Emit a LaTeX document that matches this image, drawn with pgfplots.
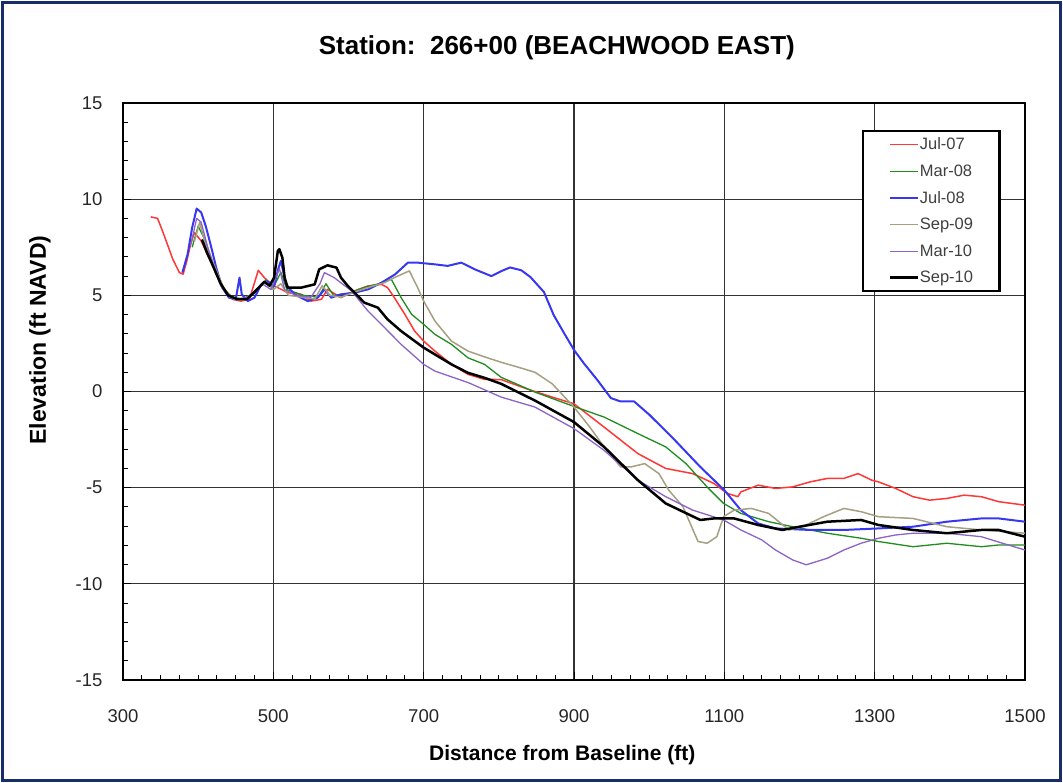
\documentclass[border=0pt]{standalone}
\usepackage{fontspec}
\setmainfont{Liberation Sans}
\usepackage{pgfplots}
\pgfplotsset{compat=1.18}

\definecolor{cJulA}{RGB}{255,55,55}
\definecolor{cMarA}{RGB}{30,140,30}
\definecolor{cJulB}{RGB}{55,55,240}
\definecolor{cSepA}{RGB}{165,160,130}
\definecolor{cMarB}{RGB}{140,100,200}
\definecolor{frame}{RGB}{25,45,105}

\begin{document}
\begin{tikzpicture}
\path[use as bounding box] (0,0) rectangle (1063pt,783pt);
\draw[frame, line width=3pt] (2.5pt,2.5pt) rectangle (1060.5pt,780.5pt);
\begin{axis}[
    at={(123pt,103pt)}, anchor=south west,
    scale only axis,
    width=902pt, height=577pt,
    xmin=300, xmax=1500, ymin=-15, ymax=15,
    xtick={300,500,...,1500}, ytick={-15,-10,...,15},
    minor x tick num=7, minor y tick num=4,
    tick pos=left, tick align=inside,
    major tick length=8pt, minor tick length=5pt,
    every tick/.style={black, line width=1pt},
    axis line style={black, line width=1.5pt},
    grid=major,
    major grid style={black!80, line width=1.2pt},
    /pgf/number format/assume math mode=true,
    /pgf/number format/1000 sep={},
    ticklabel style={font=\fontsize{18.5}{20}\selectfont, text=black!85},
    xticklabel style={yshift=-26pt},
    yticklabel style={xshift=-17pt},
    title={Station:\ \ 266+00 (BEACHWOOD EAST)},
    title style={font=\fontsize{26}{28}\bfseries\selectfont, at={(rel axis cs:0.481,1.085)}, anchor=center},
    xlabel={Distance from Baseline (ft)},
    xlabel style={font=\fontsize{21}{23}\bfseries\selectfont, at={(rel axis cs:0.487,-0.13)}, anchor=center},
    ylabel={Elevation (ft NAVD)},
    ylabel style={font=\fontsize{23}{25}\bfseries\selectfont, at={(rel axis cs:-0.092,0.589)}, anchor=center, rotate=0},
    legend style={at={(rel axis cs:0.819,0.953)}, anchor=north west,
        draw=black, line width=2.2pt, fill=white,
        font=\fontsize{16.5}{18}\selectfont, text=black!75,
        inner xsep=26pt, inner ysep=6pt, row sep=12.5pt,
        nodes={inner sep=0.5pt}},
    legend cell align=left,
    legend image code/.code={\draw[#1] (0pt,0pt) -- (28pt,0pt);},
    every axis plot/.append style={line join=round},
]
% Jul-07
\addplot[cJulA, line width=1.5pt] coordinates {
(337,9.08) (346,9.0) (352,8.4) (359,7.66) (366,6.9) (375,6.18) (380,6.1) (385,6.8)
(390,7.66) (395,8.26) (404,7.83) (412,7.14) (418,6.7) (424,6.09) (435,5.23) (446,4.79)
(457,4.7) (468,4.79) (475,5.66) (480,6.3) (488,5.92) (497,5.57) (506,5.4) (519,5.14)
(537,5.05) (550,4.7) (564,4.79) (572,5.31) (590,4.88) (608,5.23) (626,5.49) (644,5.57)
(652,5.4) (661,4.88) (675,4.01) (688,3.14) (700,2.62) (715,2.1) (737,1.41) (759,0.89)
(781,0.63) (803,0.62) (840,0.1) (871,-0.29) (900,-0.64) (940,-1.85) (985,-3.23) (1022,-4.0)
(1058,-4.27) (1086,-4.78) (1104,-5.30) (1118,-5.47) (1122,-5.22) (1145,-4.87) (1168,-5.04)
(1191,-4.96) (1214,-4.70) (1237,-4.52) (1259,-4.52) (1278,-4.27) (1296,-4.61) (1305,-4.70)
(1328,-5.04) (1351,-5.47) (1373,-5.65) (1396,-5.56) (1419,-5.39) (1442,-5.47) (1465,-5.73)
(1500,-5.91)};
\addlegendentry{Jul-07}
% Mar-08
\addplot[cMarA, line width=1.3pt] coordinates {
(392,7.5) (400,8.6) (410,7.8) (420,6.5) (432,5.4) (445,4.9) (460,4.8) (475,5.1) (490,5.8)
(500,5.4) (510,6.2) (518,5.3) (540,5.0) (560,4.9) (570,5.6) (580,5.0) (600,5.1) (620,5.4)
(640,5.6) (657,5.83) (670,4.88) (684,4.01) (700,3.49) (715,2.97) (737,2.45) (759,1.75)
(781,1.41) (803,0.74) (848,-0.03) (900,-0.78) (940,-1.33) (985,-2.19) (1022,-2.88)
(1049,-3.75) (1077,-4.96) (1099,-5.82) (1122,-6.34) (1159,-6.77) (1191,-7.03) (1237,-7.37)
(1282,-7.63) (1305,-7.8) (1351,-8.07) (1396,-7.89) (1442,-8.07) (1465,-7.98) (1500,-7.98)};
\addlegendentry{Mar-08}
% Jul-08
\addplot[cJulB, line width=2pt] coordinates {
(379,6.18) (386,7.14) (392,8.52) (398,9.51) (404,9.31) (410,8.61) (417,7.57) (424,6.44)
(432,5.4) (441,4.88) (450,4.79) (455,5.92) (458,5.05) (466,4.7) (475,4.88) (484,5.57)
(492,5.74) (501,5.49) (507,6.44) (510,6.79) (517,5.57) (528,5.05) (546,4.7) (559,4.88)
(568,5.31) (577,4.88) (590,5.05) (608,5.14) (626,5.31) (644,5.66) (662,6.09) (679,6.7)
(692,6.7) (715,6.61) (732,6.53) (750,6.7) (768,6.35) (790,6.0) (804,6.27) (815,6.45)
(830,6.3) (842,5.95) (860,5.17) (873,3.97) (887,3.02) (900,2.16) (913,1.47) (931,0.6)
(949,-0.34) (962,-0.52) (980,-0.52) (1000,-1.2) (1031,-2.4) (1068,-3.92) (1100,-5.13)
(1122,-6.17) (1145,-6.86) (1168,-7.12) (1214,-7.2) (1259,-7.2) (1305,-7.12) (1351,-7.03)
(1396,-6.77) (1442,-6.6) (1465,-6.6) (1500,-6.77)};
\addlegendentry{Jul-08}
% Sep-09
\addplot[cSepA, line width=1.5pt] coordinates {
(395,7.8) (402,8.8) (410,7.6) (417,7.0) (424,6.3) (435,5.3) (448,4.8) (460,4.75) (475,5.2)
(490,5.7) (500,5.3) (510,5.6) (520,5.0) (540,4.9) (555,4.8) (565,5.5) (575,5.0) (590,4.9)
(610,5.2) (630,5.45) (648,5.66) (661,5.92) (681,6.27) (692,5.4) (700,4.70) (715,3.66)
(737,2.62) (759,2.1) (781,1.8) (803,1.52) (826,1.26) (848,1.0) (871,0.4) (900,-0.81)
(921,-1.85) (940,-2.88) (962,-3.92) (976,-3.92) (994,-3.75) (1013,-4.27) (1026,-5.13)
(1045,-5.99) (1065,-7.8) (1077,-7.89) (1090,-7.55) (1099,-6.51) (1113,-6.17) (1136,-6.08)
(1159,-6.34) (1186,-7.2) (1204,-7.03) (1232,-6.51) (1259,-6.08) (1282,-6.25) (1305,-6.51)
(1351,-6.6) (1396,-7.03) (1442,-7.2) (1500,-7.37)};
\addlegendentry{Sep-09}
% Mar-10
\addplot[cMarB, line width=1.3pt] coordinates {
(390,7.6) (398,9.0) (404,8.8) (412,7.6) (420,6.6) (430,5.5) (442,4.9) (455,4.8) (470,5.0)
(485,5.6) (497,5.3) (508,6.4) (515,5.3) (530,5.0) (550,4.9) (562,5.6) (568,6.18) (581,5.92)
(604,5.23) (626,4.18) (648,3.32) (670,2.45) (700,1.41) (715,1.06) (760,0.45) (803,-0.29)
(848,-0.81) (900,-1.93) (940,-3.06) (985,-4.61) (1022,-5.47) (1058,-6.17) (1099,-6.68)
(1122,-7.2) (1150,-7.72) (1168,-8.24) (1191,-8.76) (1209,-9.01) (1237,-8.67) (1259,-8.24)
(1282,-7.89) (1305,-7.63) (1328,-7.46) (1351,-7.37) (1396,-7.37) (1442,-7.55) (1470,-7.89)
(1500,-8.24)};
\addlegendentry{Mar-10}
% Sep-10
\addplot[black, line width=2.5pt] coordinates {
(405,7.9) (412,7.2) (420,6.5) (430,5.6) (440,5.0) (452,4.8) (465,4.8) (478,5.3) (488,5.7)
(495,5.5) (501,5.92) (506,7.31) (508,7.4) (512,6.96) (515,5.92) (519,5.4) (537,5.4)
(555,5.57) (561,6.35) (572,6.56) (584,6.44) (590,5.92) (599,5.49) (608,5.14) (621,4.62)
(639,4.36) (652,3.75) (670,3.14) (700,2.28) (737,1.41) (759,0.97) (781,0.71) (803,0.4)
(848,-0.47) (900,-1.59) (940,-2.88) (985,-4.61) (1022,-5.82) (1068,-6.68) (1086,-6.6)
(1113,-6.6) (1145,-6.94) (1177,-7.2) (1200,-7.03) (1237,-6.77) (1282,-6.68) (1305,-6.94)
(1351,-7.2) (1396,-7.37) (1442,-7.2) (1465,-7.2) (1500,-7.55)};
\addlegendentry{Sep-10}
\end{axis}
\end{tikzpicture}
\end{document}
